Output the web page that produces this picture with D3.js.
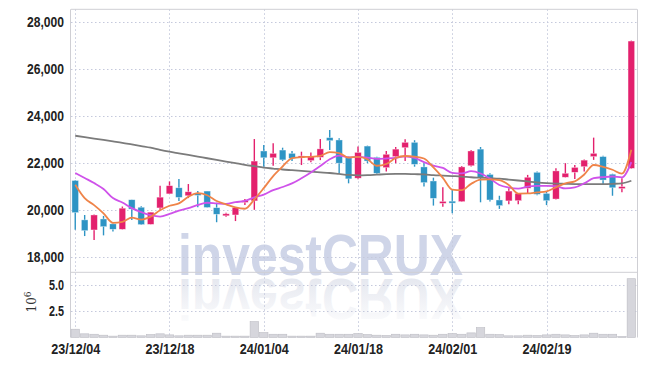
<!DOCTYPE html>
<html><head><meta charset="utf-8">
<script src="https://cdn.jsdelivr.net/npm/d3@7"></script>
<style>
html,body{margin:0;padding:0;background:#fff;}
svg{display:block;}
</style></head><body>
<svg id="c" width="645" height="366"></svg>
<script>
// ---------- data ----------
const tickIdx = [0, 10, 20, 30, 40, 50];
const tickLabels = ["23/12/04", "23/12/18", "24/01/04", "24/01/18", "24/02/01", "24/02/19"];
const priceTicks = [18000, 20000, 22000, 24000, 26000, 28000];
const volTicks = [2.5, 5.0];

const open = [21250,19570,19140,19610,19400,19170,20430,20110,19380,20080,
  20680,20940,20600,20700,20800,20090,19750,19780,20350,20380,
  22510,22220,22550,22410,22230,22100,22240,23080,22980,22220,
  21350,22720,22240,21800,22270,22650,22880,21830,21230,20300,
  20370,20350,21880,22590,21510,20420,20380,20390,20920,21600,
  20700,20460,21390,21600,21840,22270,22270,21520,20920,21770];
const high = [21270,19780,19800,19740,19420,20140,20430,20150,19900,21030,
  21210,21310,21100,20800,20800,20300,19870,20100,20460,23020,
  22770,22840,22650,22510,22480,22440,23020,23400,23050,22270,
  22700,22740,22260,22510,22680,23010,22970,21990,21370,20960,
  20850,21870,22550,22680,21560,20600,20920,20720,21490,21640,
  20770,21770,21990,21910,22150,23080,22310,21540,21350,27220];
const low = [19150,18880,18710,18910,19070,19160,19570,19350,19380,20000,
  20680,20380,20500,20110,20100,19470,19700,19520,20210,20000,
  21840,21880,22080,22080,21910,22030,22120,22550,21560,21130,
  21300,21990,21490,21630,21990,22080,21840,20990,20180,20130,
  19850,20340,21850,20320,20350,20040,20240,20240,20700,20620,
  20200,20440,21380,21320,21630,22130,21060,20600,20750,21750];
const close = [19880,19110,19780,19280,19170,20070,20030,19370,19900,20540,
  21030,20530,20770,20670,20100,19810,19830,20090,20400,22080,
  22220,22410,22130,22200,22300,22270,22600,22950,21990,21320,
  22450,22080,21560,22370,22590,22880,21940,21160,20490,20360,
  20350,21830,22510,21370,20420,20180,20800,20700,21390,20660,
  20390,21660,21560,21810,22120,22410,21270,20940,20990,27200];
const volume = [0.79,0.35,0.31,0.22,0.13,0.22,0.22,0.16,0.28,0.35,
  0.25,0.16,0.22,0.22,0.22,0.41,0.13,0.13,0.13,1.51,
  0.47,0.31,0.31,0.13,0.13,0.13,0.41,0.31,0.31,0.31,
  0.38,0.28,0.22,0.19,0.31,0.25,0.31,0.25,0.22,0.31,
  0.38,0.31,0.44,0.94,0.31,0.28,0.16,0.16,0.22,0.19,
  0.25,0.31,0.25,0.19,0.25,0.41,0.31,0.31,0.10,5.60];
const ma5 = [21070,20500,20200,19850,19444,19482,19666,19584,19708,19982,
  20174,20274,20554,20708,20620,20376,20236,20100,20046,20442,
  20924,21440,21848,22208,22252,22262,22300,22464,22422,22226,
  22262,22158,21880,21956,22210,22296,22268,22188,21812,21366,
  20860,20838,21108,21284,21296,21262,21056,20694,20698,20746,
  20788,20960,21132,21216,21508,21912,21834,21710,21546,22562];
const ma10 = [21570,21356,21142,20885,20500,20313,20070,19900,19770,19713,
  19828,19970,20069,20208,20301,20275,20255,20327,20377,20531,
  20650,20838,20974,21127,21347,21593,21870,22156,22315,22239,
  22262,22229,22172,22189,22218,22279,22213,22034,21884,21788,
  21578,21553,21648,21548,21331,21061,20947,20901,20991,21021,
  21025,21008,20913,20957,21127,21350,21397,21421,21381,22035];
const maLong = [23160,23100,23040,22980,22920,22860,22790,22720,22650,22560,
  22480,22410,22340,22270,22200,22130,22060,21990,21920,21860,
  21800,21760,21720,21690,21660,21630,21600,21570,21530,21490,
  21470,21480,21500,21520,21530,21530,21520,21510,21480,21460,
  21440,21420,21390,21370,21350,21330,21290,21250,21210,21170,
  21140,21120,21110,21100,21100,21100,21100,21110,21130,21240];

// ---------- layout ----------
const L = 71, R = 637, T = 9.3, MB = 272.3, VB = 337.5;
const UP = "#e3206d", DOWN = "#2e94c4";
const svg = d3.select("#c");
const n = close.length;
const idx = d3.range(n);

const x = d3.scaleLinear().domain([-0.45, 59.6]).range([L, R]);
const y = d3.scaleLinear().domain([17334, 28555]).range([MB, T]);
const yv = d3.scaleLinear().domain([0, 6.21]).range([VB, MB]);
const font = "'Liberation Sans',Arial,sans-serif";

// watermark
const wm = svg.append("g");
wm.append("text").attr("x", 178).attr("y", 275)
  .attr("font-family", "'Liberation Sans',Arial,sans-serif").attr("font-weight", "bold")
  .attr("font-size", 57).attr("textLength", 285).attr("lengthAdjust", "spacingAndGlyphs")
  .attr("fill", "#cfd5e8").text("investCRUX");
const grad = svg.append("defs").append("linearGradient").attr("id", "rg")
  .attr("x1", 0).attr("y1", 0).attr("x2", 0).attr("y2", 1);
grad.append("stop").attr("offset", "0%").attr("stop-color", "#ffffff");
grad.append("stop").attr("offset", "100%").attr("stop-color", "#e0e3ec");
wm.append("text").attr("x", 178).attr("y", 275)
  .attr("transform", "translate(0,554) scale(1,-1)")
  .attr("font-family", "'Liberation Sans',Arial,sans-serif").attr("font-weight", "bold")
  .attr("font-size", 57).attr("textLength", 285).attr("lengthAdjust", "spacingAndGlyphs")
  .attr("fill", "url(#rg)").text("investCRUX");

// grid
const grid = svg.append("g").attr("stroke", "#c5c9dc").attr("stroke-width", 1).attr("stroke-dasharray", "1.5,2.5");
grid.selectAll(".hp").data(priceTicks).join("line")
  .attr("x1", L).attr("x2", R).attr("y1", d => Math.round(y(d)) + 0.5).attr("y2", d => Math.round(y(d)) + 0.5);
grid.selectAll(".hv").data(volTicks).join("line")
  .attr("x1", L).attr("x2", R).attr("y1", d => Math.round(yv(d)) + 0.5).attr("y2", d => Math.round(yv(d)) + 0.5);
grid.selectAll(".vx").data(tickIdx).join("line")
  .attr("x1", d => Math.round(x(d)) + 0.5).attr("x2", d => Math.round(x(d)) + 0.5).attr("y1", T).attr("y2", VB);

// frame
const fr = svg.append("g").attr("stroke", "#cfcfd4").attr("stroke-width", 1).attr("fill", "none");
fr.append("line").attr("x1", L).attr("x2", R).attr("y1", T).attr("y2", T);
fr.append("line").attr("x1", L).attr("x2", R).attr("y1", MB).attr("y2", MB);
fr.append("line").attr("x1", L - 0.5).attr("x2", L - 0.5).attr("y1", T).attr("y2", VB);
fr.append("line").attr("x1", R + 0.5).attr("x2", R + 0.5).attr("y1", T).attr("y2", VB);

// volume bars
const bw = x(1) - x(0);
svg.append("g").selectAll("rect").data(idx).join("rect")
  .attr("x", i => x(i) - bw / 2 + 0.5).attr("width", bw - 1)
  .attr("y", i => yv(volume[i])).attr("height", i => VB - yv(volume[i]))
  .attr("fill", "#d6d6dc").attr("stroke", "#bdbdc4").attr("stroke-width", 0.6);

// candles
const cg = svg.append("g");
cg.selectAll("line").data(idx).join("line")
  .attr("x1", i => x(i)).attr("x2", i => x(i))
  .attr("y1", i => y(high[i])).attr("y2", i => y(low[i]))
  .attr("stroke", i => close[i] >= open[i] ? UP : DOWN).attr("stroke-width", 1.4);
cg.selectAll("rect").data(idx).join("rect")
  .attr("x", i => x(i) - 3.3).attr("width", 6.6)
  .attr("y", i => y(Math.max(open[i], close[i])))
  .attr("height", i => Math.max(2, Math.abs(y(open[i]) - y(close[i]))))
  .attr("fill", i => close[i] >= open[i] ? UP : DOWN)
  .attr("stroke", "#ffffff").attr("stroke-opacity", 0.6).attr("stroke-width", 0.6);

// moving averages
const line = arr => d3.line().x(i => x(i)).y(i => y(arr[i])).curve(d3.curveMonotoneX)(idx);
svg.append("path").attr("d", line(maLong)).attr("fill", "none").attr("stroke", "#7b7b7b").attr("stroke-width", 1.8);
svg.append("path").attr("d", line(ma10)).attr("fill", "none").attr("stroke", "#cf52ea").attr("stroke-width", 1.8);
svg.append("path").attr("d", line(ma5)).attr("fill", "none").attr("stroke", "#ef8449").attr("stroke-width", 1.8);

// axes labels (condensed via textLength)
const yAxis = d3.axisLeft(y).tickValues(priceTicks).tickFormat(d3.format(",")).tickSize(0).tickPadding(7);
const ga = svg.append("g").attr("transform", `translate(${L},0)`).call(yAxis);
ga.select(".domain").remove();
ga.selectAll("text").attr("font-family", font).attr("font-weight", "bold").attr("font-size", 14)
  .attr("fill", "#222").attr("textLength", 37).attr("lengthAdjust", "spacingAndGlyphs");

const vAxis = d3.axisLeft(yv).tickValues(volTicks).tickFormat(d3.format(".1f")).tickSize(0).tickPadding(7);
const gv = svg.append("g").attr("transform", `translate(${L},0)`).call(vAxis);
gv.select(".domain").remove();
gv.selectAll("text").attr("font-family", font).attr("font-weight", "bold").attr("font-size", 14)
  .attr("fill", "#222").attr("textLength", 15).attr("lengthAdjust", "spacingAndGlyphs");

const xAxis = d3.axisBottom(x).tickValues(tickIdx).tickFormat((d, k) => tickLabels[k]).tickSize(0).tickPadding(7);
const gx = svg.append("g").attr("transform", `translate(0,${VB})`).call(xAxis);
gx.select(".domain").remove();
gx.selectAll("text").attr("font-family", font).attr("font-weight", "bold").attr("font-size", 14)
  .attr("fill", "#222").attr("textLength", 49).attr("lengthAdjust", "spacingAndGlyphs");

// 10^6 label
const ex = svg.append("text").attr("transform", "translate(36,302) rotate(-90)")
  .attr("text-anchor", "middle").attr("font-family", "'DejaVu Serif',serif").attr("font-size", 12).attr("fill", "#333");
ex.append("tspan").text("10");
ex.append("tspan").attr("dy", -5).attr("font-size", 9).text("6");
</script>
</body></html>
